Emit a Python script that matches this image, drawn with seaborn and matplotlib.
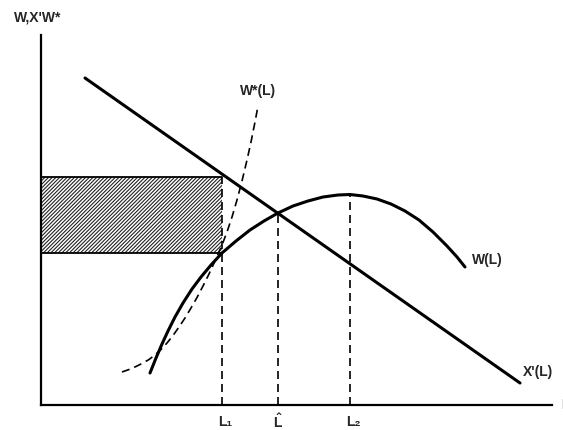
import matplotlib
matplotlib.use("Agg")
import matplotlib.pyplot as plt
import seaborn as sns

# ---- data (units: horizontal / vertical distance from the origin) ----
x_line_x = [44, 479]
x_line_y = [327, 22]

w_x = [109, 115, 121, 127, 134, 142, 151, 160, 170, 181, 195, 209, 223, 237,
       252, 267, 282, 297, 309, 322, 336, 350, 364, 378, 392, 406, 416, 424]
w_y = [32, 47, 61, 74, 88, 102, 116, 128, 140, 152, 164, 175, 184, 192,
       199, 204, 208, 210, 210.5, 209, 206, 201, 194, 185, 173, 159, 148, 138]

wstar_x = [81, 88, 95, 102, 108, 114, 120, 126, 132, 138, 144, 150, 156, 162,
           168, 174, 181, 186, 191, 196, 201, 206, 210, 214, 217]
wstar_y = [33, 35.5, 38.5, 42, 45.5, 50, 55.5, 62, 69.5, 78, 87, 97, 107.5, 119,
           131, 144, 160, 173, 188, 205, 224, 245, 263, 283, 299]

# key points on the L axis
l_positions = [181, 237, 309]
l_tops = [228, 192, 210]
l_labels = ["L\u2081", r"$\mathbf{\hat{L}}$", "L\u2082"]
l_label_x = [184, 237, 312]

rect_x = [0, 181]
rect_low = 152
rect_high = 228

curve_labels = ["W*(L)", "W(L)", "X'(L)"]
curve_label_pos = [(199, 314), (431, 145), (482, 33)]
y_axis_label = "W,X'W*"

# ---- figure ----
sns.set_style("white")
plt.rcParams["font.family"] = ["Liberation Sans", "DejaVu Sans"]
plt.rcParams["mathtext.fontset"] = "custom"
plt.rcParams["mathtext.bf"] = "Liberation Sans:bold"
plt.rcParams["mathtext.rm"] = "Liberation Sans"
plt.rcParams["hatch.linewidth"] = 0.8

fig = plt.figure(figsize=(5.63, 4.30), dpi=100)
ax = fig.add_axes([41 / 563, 25 / 430, 511 / 563, 370 / 430])
ax.set_xlim(0, 511)
ax.set_ylim(0, 370)

# hatched rectangle
ax.fill_between(rect_x, rect_low, rect_high, facecolor="white",
                edgecolor="#222222", hatch="/////////", linewidth=0)
ax.plot(rect_x, [rect_high, rect_high], color="black", lw=1.3)
ax.plot(rect_x, [rect_low, rect_low], color="black", lw=1.3)

# dashed verticals
dash = (0, (4.8, 3))
for xp, top in zip(l_positions, l_tops):
    ax.vlines(xp, 0, top, colors="black", lw=1.2, linestyles=[dash])

# curves
sns.lineplot(x=x_line_x, y=x_line_y, ax=ax, color="black", lw=2.2, sort=False)
sns.lineplot(x=w_x, y=w_y, ax=ax, color="black", lw=2.2, sort=False)
sns.lineplot(x=wstar_x, y=wstar_y, ax=ax, color="black", lw=1.2,
             sort=False, linestyle=dash)

# axes styling
for side in ["top", "right"]:
    ax.spines[side].set_visible(False)
for side in ["left", "bottom"]:
    ax.spines[side].set_linewidth(1.6)
    ax.spines[side].set_color("black")
ax.set_xticks([])
ax.set_yticks([])

# labels
fs = 10
for txt, (tx, ty) in zip(curve_labels, curve_label_pos):
    ax.text(tx, ty, txt, fontsize=fs, fontweight="bold", ha="left",
            va="center", clip_on=False)
for xp, lab in zip(l_label_x, l_labels):
    ax.text(xp, -17, lab, fontsize=fs, fontweight="bold", ha="center",
            va="center", clip_on=False)
ax.text(-3, 387, y_axis_label, fontsize=fs, fontweight="bold", ha="center",
        va="center", clip_on=False)
ax.text(520, 0, "L", fontsize=fs, fontweight="bold", ha="left",
        va="center", clip_on=False)

fig.savefig("out.png", dpi=100)
